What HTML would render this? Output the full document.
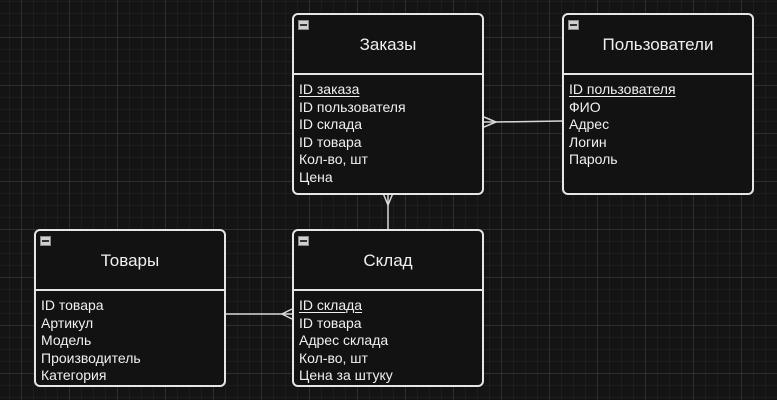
<!DOCTYPE html>
<html><head><meta charset="utf-8"><style>
html,body{margin:0;padding:0}
body{width:777px;height:400px;overflow:hidden;position:relative;background-color:#141414;
background-image:linear-gradient(#2e2e2e 1px,transparent 1px),linear-gradient(90deg,#2e2e2e 1px,transparent 1px),linear-gradient(#1d1d1d 1px,transparent 1px),linear-gradient(90deg,#1d1d1d 1px,transparent 1px);
background-size:48px 48px,48px 48px,12px 12px,12px 12px;
background-position:0 37px,21px 0,0 1px,9px 0;
font-family:"Liberation Sans",sans-serif;color:#f0f0f0}
.t{position:absolute;width:188px;border:2px solid #e6e6e6;border-radius:6px;background:#121212;box-sizing:content-box}
.h{height:58px;border-bottom:2px solid #e6e6e6;text-align:center;line-height:60px;font-size:17px;position:relative}
.m{position:absolute;left:4px;top:5px;width:9px;height:8px;background:#d0d0d0;border:1px solid #888}
.m:after{content:"";position:absolute;left:1px;right:1px;top:3px;height:2px;background:#333}
.r{padding:6px 0 0 5px;font-size:14px;line-height:17.5px}
u{text-decoration-thickness:1px;text-underline-offset:2px}
svg{position:absolute;left:0;top:0}
</style></head><body>
<svg width="777" height="400">
<g stroke="#d8d8d8" stroke-width="1.5" fill="none">
<path d="M484 122 L496 122 L562 121"/>
<path d="M484 117 L496 122 L484 127"/>
<path d="M388 193 L388 229"/>
<path d="M383 193 L388 205 L393 193"/>
<path d="M226 314 L292 314"/>
<path d="M292 309 L282 314 L292 319"/>
</g></svg>
<div class="t" style="left:292px;top:13px;height:178px"><div class="h"><span class="m"></span>Заказы</div>
<div class="r"><u>ID заказа</u><br>ID пользователя<br>ID склада<br>ID товара<br>Кол-во, шт<br>Цена</div></div>
<div class="t" style="left:562px;top:13px;height:178px"><div class="h"><span class="m"></span>Пользователи</div>
<div class="r"><u>ID пользователя</u><br>ФИО<br>Адрес<br>Логин<br>Пароль</div></div>
<div class="t" style="left:34px;top:229px;height:154px"><div class="h"><span class="m"></span>Товары</div>
<div class="r">ID товара<br>Артикул<br>Модель<br>Производитель<br>Категория</div></div>
<div class="t" style="left:292px;top:229px;height:154px"><div class="h"><span class="m"></span>Склад</div>
<div class="r"><u>ID склада</u><br>ID товара<br>Адрес склада<br>Кол-во, шт<br>Цена за штуку</div></div>
</body></html>
